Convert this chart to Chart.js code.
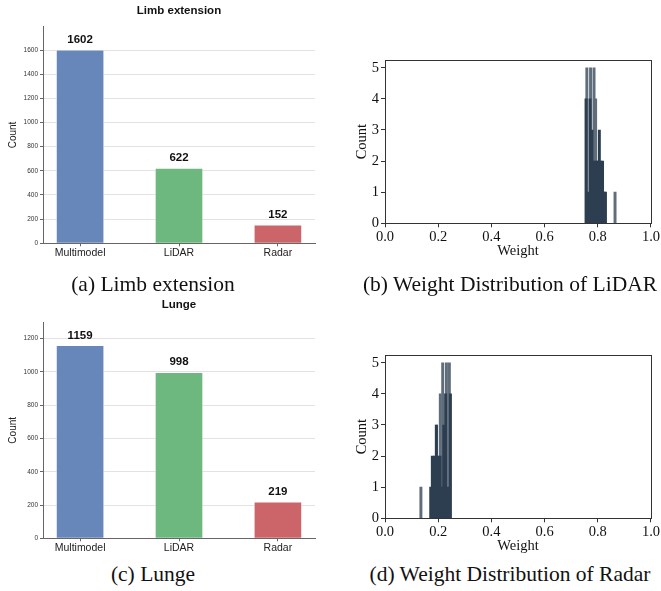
<!DOCTYPE html>
<html>
<head>
<meta charset="utf-8">
<script src="https://cdn.jsdelivr.net/npm/chart.js@4.4.1/dist/chart.umd.min.js"></script>
<style>
  html, body { margin: 0; padding: 0; background: #fff; }
  #wrap { position: relative; width: 661px; height: 591px; overflow: hidden; }
  canvas { position: absolute; }
  .cap { position: absolute; width: 330px; text-align: center; font: 21.5px/25px "Liberation Serif", "Times New Roman", serif; color: #111; white-space: nowrap; }
</style>
</head>
<body>
<div id="wrap">
  <canvas id="limb" width="330" height="265" style="left:0;top:0"></canvas>
  <canvas id="lidar" width="331" height="225" style="left:330px;top:40px"></canvas>
  <canvas id="lunge" width="330" height="265" style="left:0;top:290px"></canvas>
  <canvas id="radar" width="331" height="225" style="left:330px;top:335px"></canvas>
  <div class="cap" style="left:-12px;top:272px">(a) Limb extension</div>
  <div class="cap" style="left:345px;top:272px">(b) Weight Distribution of LiDAR</div>
  <div class="cap" style="left:-12px;top:562px">(c) Lunge</div>
  <div class="cap" style="left:345px;top:562px">(d) Weight Distribution of Radar</div>
</div>
<script>
// bar charts
const categories = ['Multimodel', 'LiDAR', 'Radar'];
const limbCounts = [1602, 622, 152];
const lungeCounts = [1159, 998, 219];
const barColors = ['#6787bb', '#6db87e', '#cc6569'];
const countStep = 200;

// weight histograms (bin centre, count) - dark layer and lighter layer
const weightTicks = [0, 0.2, 0.4, 0.6, 0.8, 1.0];
const lidarDarkW = [0.756, 0.764, 0.771, 0.778, 0.786, 0.793, 0.800, 0.806, 0.812, 0.818, 0.824, 0.829];
const lidarDarkN = [4, 1, 4, 3, 2, 2, 2, 3, 2, 2, 1, 1];
const lidarLightW = [0.759, 0.773, 0.786, 0.792, 0.800, 0.865];
const lidarLightN = [5, 5, 5, 4, 2, 1];
const radarDarkW = [0.172, 0.178, 0.186, 0.193, 0.199, 0.207, 0.214, 0.221, 0.228, 0.235, 0.246];
const radarDarkN = [1, 2, 2, 3, 2, 2, 1, 3, 4, 1, 4];
const radarLightW = [0.135, 0.194, 0.208, 0.217, 0.231, 0.242];
const radarLightN = [1, 3, 4, 5, 5, 5];

const SANS = '"Liberation Sans", Arial, sans-serif';
const SERIF = '"Liberation Serif", "Times New Roman", serif';

const valueLabels = {
	id: 'valueLabels',
	afterDatasetsDraw(chart) {
		const ctx = chart.ctx;
		const ds = chart.data.datasets[0];
		ctx.save();
		ctx.font = 'bold 11.5px ' + SANS;
		ctx.fillStyle = '#111';
		ctx.textAlign = 'center';
		ctx.textBaseline = 'middle';
		chart.getDatasetMeta(0).data.forEach((bar, i) => {
			ctx.fillText(ds.data[i].y, bar.x, bar.y - 10);
		});
		ctx.restore();
	}
};

const frame = {
	id: 'frame',
	afterDraw(chart) {
		const a = chart.chartArea, ctx = chart.ctx;
		ctx.save();
		ctx.strokeStyle = '#333';
		ctx.lineWidth = 1;
		ctx.strokeRect(Math.round(a.left) + 0.5, Math.round(a.top) + 0.5, Math.round(a.width), Math.round(a.height));
		ctx.restore();
	}
};

function barChart(id, title, counts, titlePad, bottomH){
	const yMax = Math.max(...counts) * 1.12;
	return new Chart(document.getElementById(id), {
		type: 'bar',
		data: {
			datasets: [{
				data: counts.map((c, i) => ({x: i, y: c})),
				backgroundColor: barColors,
				borderColor: 'rgba(255,255,255,0.55)',
				borderWidth: 1,
				barThickness: 48
			}]
		},
		options: {
			responsive: false,
			animation: false,
			layout: { padding: { right: 15, left: 0, bottom: 0 } },
			plugins: {
				legend: { display: false },
				tooltip: { enabled: false },
				title: {
					display: true, text: title, fullSize: false, color: '#111',
					font: { family: SANS, size: 11.5, weight: 'bold' },
					padding: titlePad
				}
			},
			scales: {
				x: {
					type: 'linear', min: -0.375, max: 2.375, offset: false,
					afterBuildTicks: s => { s.ticks = categories.map((c, i) => ({value: i})); },
					afterFit: s => { s.height = bottomH; },
					grid: { drawOnChartArea: false, tickLength: 3, tickColor: '#666', offset: false },
					border: { color: '#666', width: 1 },
					ticks: { callback: v => categories[v], color: '#222', font: { family: SANS, size: 10.5 }, padding: 1, maxRotation: 0 }
				},
				y: {
					min: 0, max: yMax,
					afterBuildTicks: s => {
						const t = [];
						for (let v = 0; v <= yMax; v += countStep) t.push({value: v});
						s.ticks = t;
					},
					afterFit: s => { s.width = 43; },
					grid: { color: '#e2e2e2', borderDash: [3, 2], tickLength: 3, tickColor: '#666', tickBorderDash: [] },
					border: { color: '#666', width: 1 },
					ticks: { callback: v => String(v), color: '#333', font: { family: SANS, size: 6.5 }, padding: 2 },
					title: { display: true, text: 'Count', color: '#222', font: { family: SANS, size: 10 }, padding: { top: 7, bottom: 0 } }
				}
			}
		},
		plugins: [valueLabels]
	});
}

function histChart(id, darkW, darkN, lightW, lightN){
	return new Chart(document.getElementById(id), {
		type: 'bar',
		data: {
			datasets: [{
				data: darkW.map((w, i) => ({x: w, y: darkN[i]})),
				backgroundColor: '#2c3e50',
				barThickness: 2.3
			}, {
				data: lightW.map((w, i) => ({x: w, y: lightN[i]})),
				backgroundColor: '#606d7b',
				barThickness: 2.3
			}]
		},
		options: {
			responsive: false,
			animation: false,
			layout: { padding: { top: 20, right: 9, left: 0, bottom: 0 } },
			datasets: { bar: { grouped: false } },
			plugins: { legend: { display: false }, tooltip: { enabled: false } },
			scales: {
				x: {
					type: 'linear', min: 0, max: 1, offset: false,
					afterBuildTicks: s => { s.ticks = weightTicks.map(v => ({value: v})); },
					afterFit: s => { s.height = 41.7; },
					grid: { drawOnChartArea: false, tickLength: 4, tickColor: '#333', offset: false },
					border: { color: '#333', width: 1 },
					ticks: { callback: v => v.toFixed(1), color: '#111', font: { family: SERIF, size: 14.5 }, padding: 1, maxRotation: 0 },
					title: { display: true, text: 'Weight', color: '#111', font: { family: SERIF, size: 14.5 }, padding: { top: 0, bottom: 5 } }
				},
				y: {
					min: 0, max: 5.25,
					afterBuildTicks: s => { s.ticks = [0, 1, 2, 3, 4, 5].map(v => ({value: v})); },
					afterFit: s => { s.width = 55; },
					grid: { drawOnChartArea: false, tickLength: 4, tickColor: '#333' },
					border: { color: '#333', width: 1 },
					ticks: { color: '#111', font: { family: SERIF, size: 14.5 }, padding: 2 },
					title: { display: true, text: 'Count', color: '#111', font: { family: SERIF, size: 14.5 }, padding: { top: 23, bottom: 0 } }
				}
			}
		},
		plugins: [frame]
	});
}

barChart('limb', 'Limb extension', limbCounts, { top: 4.4, bottom: 8.4 }, 21.7);
barChart('lunge', 'Lunge', lungeCounts, { top: 8.4, bottom: 10.1 }, 16.7);
histChart('lidar', lidarDarkW, lidarDarkN, lidarLightW, lidarLightN);
histChart('radar', radarDarkW, radarDarkN, radarLightW, radarLightN);
</script>
</body>
</html>
